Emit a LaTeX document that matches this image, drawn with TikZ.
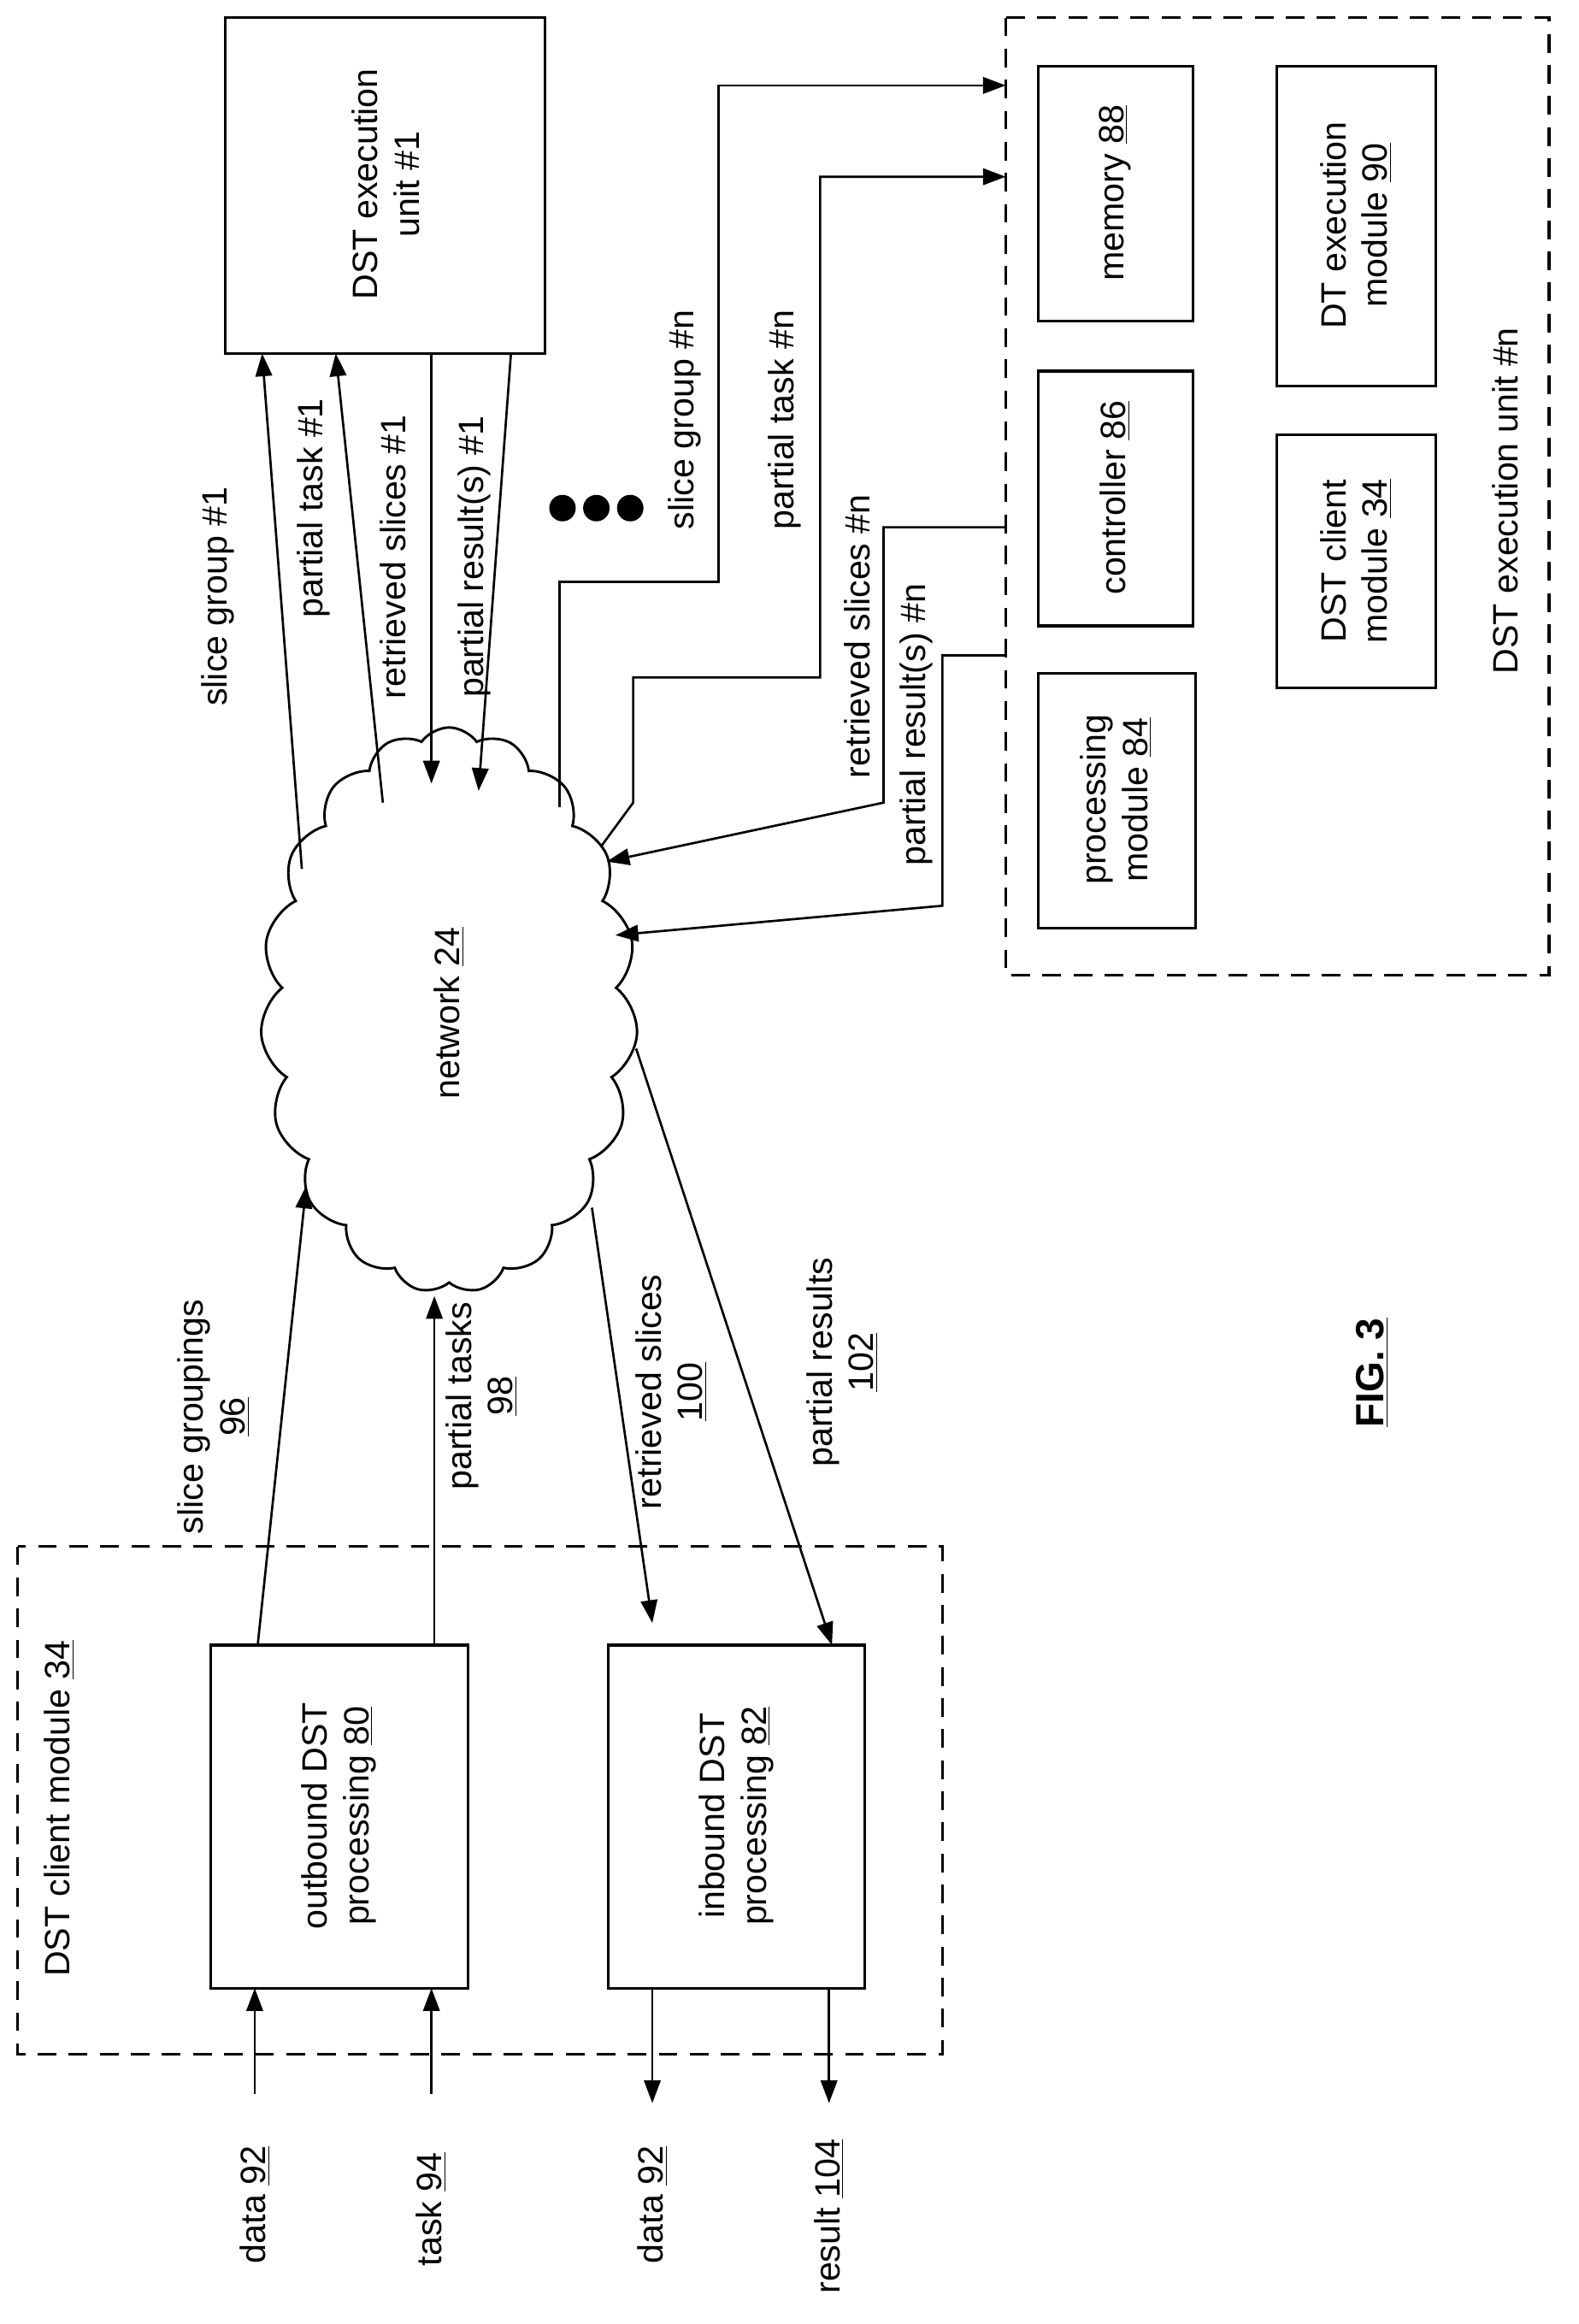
\documentclass[tikz,border=0pt]{standalone}
\usepackage{fontspec}
\setmainfont{Liberation Sans}
\usetikzlibrary{shapes.symbols,arrows.meta}
\tikzset{
  lbl/.style={rotate=90, align=center, font=\fontsize{17}{20}\selectfont, inner sep=0pt},
  box/.style={line width=1.3pt},
  dbox/.style={line width=1.3pt, dash pattern=on 9pt off 6pt},
  arr/.style={line width=1.1pt, -{Triangle[length=11pt,width=8pt]}},
}
\begin{document}
\begin{tikzpicture}[x=0.025cm,y=-0.025cm]
\useasboundingbox (0,0) rectangle (1072,1578);

% client module
\draw[dbox] (12,1050) rectangle (640,1395);
\node[lbl] at (40,1228) {DST client module \underline{34}};
\draw[box] (143,1117) rectangle (318,1350);
\node[lbl] (outb) at (230,1233) {outbound DST\\processing \underline{80}};
\draw[box] (413,1117) rectangle (587,1350);
\node[lbl] (inb) at (500,1233) {inbound DST\\processing \underline{82}};

% inputs / outputs
\node[lbl] (d1) at (173,1497) {data \underline{92}};
\node[lbl] (t1) at (293,1500) {task \underline{94}};
\node[lbl] (d2) at (443,1497) {data \underline{92}};
\node[lbl] (r1) at (563,1505) {result \underline{104}};
\coordinate (d1e) at (173,1422); \coordinate (t1e) at (293,1422);
\coordinate (d2e) at (443,1428); \coordinate (r1e) at (563,1428);
\draw[arr] (d1e) -- (173,1350);
\draw[arr] (t1e) -- (293,1350);
\draw[arr] (443,1350) -- (d2e);
\draw[arr] (563,1350) -- (r1e);

% network
\node[cloud, draw, line width=1.2pt, cloud puffs=19, cloud puff arc=110, minimum width=6.4cm, minimum height=9.6cm] (net) at (305,686) {};
\node[lbl] at (305,688) {network \underline{24}};

\draw[arr] (175,1117) -- (208,805);
\node[lbl] at (145,962) {slice groupings\\\underline{96}};
\draw[arr] (295,1117) -- (295,880);
\node[lbl] at (327,948) {partial tasks\\\underline{98}};
\draw[arr] (402,820) -- (443,1102);
\node[lbl] at (456,945) {retrieved slices\\\underline{100}};
\draw[arr] (432,712) -- (565,1117);
\node[lbl] at (572,925) {partial results\\\underline{102}};

% execution unit 1
\draw[box] (153,12) rectangle (370,240);
\node[lbl] (eu1) at (262,125) {DST execution\\unit \#1};
\draw[arr] (205,590) -- (178,240);
\draw[arr] (260,545) -- (228,240);
\draw[arr] (293,240) -- (293,532);
\draw[arr] (347,240) -- (325,537);
\node[lbl] at (148,405) {slice group \#1};
\node[lbl] at (213,345) {partial task \#1};
\node[lbl] at (267,378) {retrieved slices \#1};
\node[lbl] at (322,378) {partial result(s) \#1};
\foreach \x in {382,405,428} \fill (\x,345) circle (9);

% execution unit n
\draw[dbox] (683,12) rectangle (1052,662);
\node[lbl] at (1022,340) {DST execution unit \#n};
\draw[box] (705,45) rectangle (810,218);
\node[lbl] (mem) at (757,131) {memory \underline{88}};
\draw[box] (705,252) rectangle (810,425);
\node[lbl] (ctl) at (757,338) {controller \underline{86}};
\draw[box] (705,457) rectangle (812,630);
\node[lbl] (proc) at (758,543) {processing\\module \underline{84}};
\draw[box] (867,45) rectangle (975,262);
\node[lbl] (dtm) at (921,153) {DT execution\\module \underline{90}};
\draw[box] (867,295) rectangle (975,467);
\node[lbl] (dcm) at (921,381) {DST client\\module \underline{34}};

\draw[arr] (380,548) -- (380,395) -- (488,395) -- (488,58) -- (683,58);
\draw[arr] (408,575) -- (430,545) -- (430,460) -- (557,460) -- (557,120) -- (683,120);
\draw[arr] (683,358) -- (600,358) -- (600,545) -- (412,585);
\draw[arr] (683,445) -- (640,445) -- (640,615) -- (418,635);
\node[lbl] at (465,285) {slice group \#n};
\node[lbl] at (533,285) {partial task \#n};
\node[lbl] at (582,432) {retrieved slices \#n};
\node[lbl] at (622,492) {partial result(s) \#n};

\node[lbl, font=\fontsize{19}{22}\selectfont\bfseries] at (932,932) {\underline{FIG. 3}};
\end{tikzpicture}
\end{document}
